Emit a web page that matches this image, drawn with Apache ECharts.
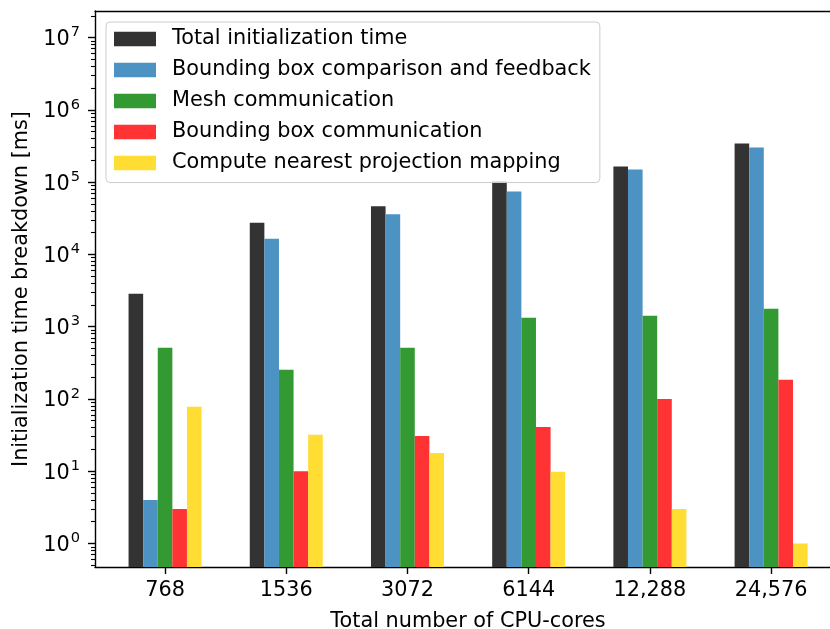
<!DOCTYPE html>
<html>
<head>
<meta charset="utf-8">
<script src="https://cdn.jsdelivr.net/npm/echarts@6/dist/echarts.min.js"></script>
<style>
  html, body { margin: 0; padding: 0; background: #fff; }
  #main { width: 830px; height: 629px; }
</style>
</head>
<body>
<div id="main"></div>
<script>
// cores on x axis
var categories = ['768', '1536', '3072', '6144', '12,288', '24,576'];
var seriesNames = [
  'Total initialization time',
  'Bounding box comparison and feedback',
  'Mesh communication',
  'Bounding box communication',
  'Compute nearest projection mapping'
];
// ms
var totalTime = [2860, 27500, 46200, 103000, 164000, 341000];
var bboxCompare = [4.0, 16500, 35800, 73900, 149000, 300000];
var meshComm = [510, 253, 510, 1330, 1415, 1770];
var bboxComm = [3.0, 10, 30.8, 41, 100, 184];
var nearestProj = [78, 32, 17.9, 9.8, 3.0, 1.0];
var yMajorTicks = [1, 10, 100, 1000, 10000, 100000, 1000000, 10000000];

var colors = ['#333333', '#4c92c3', '#339933', '#ff3333', '#ffdd33'];
var allValues = [totalTime, bboxCompare, meshComm, bboxComm, nearestProj];

var yMin = 0.473, yMax = 2.33e7;
// the right spine lies outside the picture, so the plot stops at the edge
var xMin = -0.578, xMax = 5.486;
var barW = 14.6;
// minor log ticks 2..9 per decade
var yMinorTicks = [];
for (var d = -1; d <= 7; d++) {
  for (var k = 2; k <= 9; k++) {
    var t = k * Math.pow(10, d);
    if (t > yMin && t < yMax) yMinorTicks.push(t);
  }
}
var xIdx = categories.map(function (c, i) { return i; });

var font = 'DejaVu Sans';
var fs = 20.8;
var myChart = echarts.init(document.getElementById('main'));

// bars drawn from the bottom of the log axis (echarts log bars start at 1)
function makeRender(s) {
  return function (params, api) {
    var top = api.coord([api.value(0), api.value(1)]);
    var base = api.coord([api.value(0), yMin]);
    var x = top[0] + (s - 2.5) * barW;
    return {
      type: 'rect',
      shape: { x: x, y: top[1], width: barW, height: base[1] - top[1] },
      style: { fill: colors[s] }
    };
  };
}

var series = allValues.map(function (vals, s) {
  return {
    name: seriesNames[s],
    type: 'custom',
    xAxisIndex: 0,
    yAxisIndex: 0,
    z: 2,
    itemStyle: { color: colors[s] },
    renderItem: makeRender(s),
    encode: { x: 0, y: 1 },
    data: vals.map(function (v, i) { return [i, v]; })
  };
});

var lineStyle = { color: '#000', width: 1.4 };
var gridRect = { left: 95, top: 11, width: 735, height: 556, outerBoundsMode: 'none', containLabel: false };

var option = {
  animation: false,
  textStyle: { fontFamily: font },
  grid: [gridRect, echarts.util.extend({}, gridRect)],
  legend: {
    orient: 'vertical',
    left: 106,
    top: 22,
    z: 10,
    padding: [6.5, 9, 9, 8],
    itemWidth: 42,
    itemHeight: 14.6,
    itemGap: 10,
    icon: 'rect',
    backgroundColor: 'rgba(255,255,255,0.8)',
    borderColor: '#cccccc',
    borderWidth: 1,
    borderRadius: 4,
    textStyle: { fontFamily: font, fontSize: fs, color: '#000', padding: [0, 0, 0, 11] },
    data: seriesNames
  },
  xAxis: [{
    gridIndex: 0,
    type: 'value',
    min: xMin,
    max: xMax,
    name: 'Total number of CPU-cores',
    nameLocation: 'start',
    nameGap: 0,
    nameTextStyle: {
      fontFamily: font, fontSize: fs, color: '#000',
      align: 'center', verticalAlign: 'top',
      padding: [44, 0, 0, 0]
    },
    axisLine: { show: true, onZero: false, lineStyle: lineStyle },
    axisTick: { show: true, length: 7, lineStyle: lineStyle, customValues: xIdx },
    axisLabel: {
      fontFamily: font, fontSize: fs, color: '#000', margin: 13,
      customValues: xIdx,
      formatter: function (v) { return categories[Math.round(v)]; }
    },
    splitLine: { show: false }
  }, {
    gridIndex: 1,
    type: 'value',
    position: 'top',
    min: xMin,
    max: xMax,
    axisLine: { show: true, onZero: false, lineStyle: lineStyle },
    axisTick: { show: false },
    axisLabel: { show: false },
    splitLine: { show: false }
  }],
  yAxis: [{
    gridIndex: 0,
    type: 'log',
    min: yMin,
    max: yMax,
    name: 'Initialization time breakdown [ms]',
    nameLocation: 'middle',
    nameGap: 62,
    nameTextStyle: { fontFamily: font, fontSize: fs, color: '#000' },
    axisLine: { show: true, onZero: false, lineStyle: lineStyle },
    axisTick: { show: true, length: 7, lineStyle: lineStyle, customValues: yMajorTicks },
    axisLabel: {
      color: '#000',
      margin: 15,
      customValues: yMajorTicks,
      formatter: function (v) {
        return '{b|10}{s|' + Math.round(Math.log10(v)) + '}';
      },
      rich: {
        b: { fontFamily: font, fontSize: fs, color: '#000', verticalAlign: 'bottom' },
        s: { fontFamily: font, fontSize: 14.6, color: '#000', verticalAlign: 'bottom', padding: [0, 0, 10, 1] }
      }
    },
    splitLine: { show: false }
  }, {
    // minor ticks, own grid so it stays on the left
    gridIndex: 1,
    type: 'log',
    min: yMin,
    max: yMax,
    position: 'left',
    axisLine: { show: false, onZero: false },
    axisTick: { show: true, length: 4, lineStyle: { color: '#000', width: 1.1 }, customValues: yMinorTicks },
    axisLabel: { show: false },
    splitLine: { show: false }
  }],
  graphic: [],
  series: series
};
myChart.setOption(option, true);

// x title is centred on the full axes box (which runs past the right edge)
option.xAxis[0].nameTextStyle.padding = [44, 0, 0, 2 * (468 - 95)];
myChart.setOption(option, true);
</script>
</body>
</html>
